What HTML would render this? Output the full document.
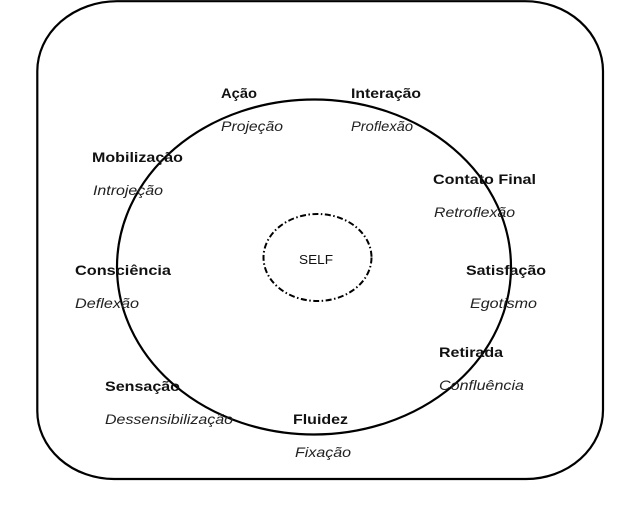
<!DOCTYPE html>
<html>
<head>
<meta charset="utf-8">
<style>
html,body{margin:0;padding:0;background:#fff;}
svg{display:block;}
text{font-family:"Liberation Sans",Arial,sans-serif;fill:#111;}
.b{font-weight:bold;font-size:14px;}
.i{font-style:italic;font-size:14px;fill:#222;}
</style>
</head>
<body>
<svg width="636" height="516" viewBox="0 0 636 516" xmlns="http://www.w3.org/2000/svg">
<rect x="0" y="0" width="636" height="516" fill="#fff"/>
<!-- outer rounded rectangle -->
<path d="M117,1.2 L525,1.2 A78,70 0 0 1 603,71 L603,410 A77,69 0 0 1 526,479 L114,479 A77,68 0 0 1 37.3,411 L37.3,71 A80,70 0 0 1 117,1.2 Z" fill="none" stroke="#000" stroke-width="2.2"/>
<!-- big ellipse -->
<ellipse cx="314" cy="267" rx="197" ry="167.5" fill="none" stroke="#000" stroke-width="2.2"/>
<!-- SELF dash-dot ellipse -->
<ellipse cx="317.5" cy="257.5" rx="54" ry="43.5" fill="none" stroke="#000" stroke-width="2" stroke-dasharray="6 2.5 1.5 2.5"/>
<text x="299" y="264" font-size="13" textLength="34" lengthAdjust="spacingAndGlyphs">SELF</text>

<text class="b" x="221" y="98" textLength="36" lengthAdjust="spacingAndGlyphs">Ação</text>
<text class="i" x="221" y="131" textLength="62" lengthAdjust="spacingAndGlyphs">Projeção</text>

<text class="b" x="351" y="98" textLength="70" lengthAdjust="spacingAndGlyphs">Interação</text>
<text class="i" x="351" y="131" textLength="62" lengthAdjust="spacingAndGlyphs">Proflexão</text>

<text class="b" x="92" y="162" textLength="91" lengthAdjust="spacingAndGlyphs">Mobilização</text>
<text class="i" x="93" y="195" textLength="70" lengthAdjust="spacingAndGlyphs">Introjeção</text>

<text class="b" x="433" y="184" textLength="103" lengthAdjust="spacingAndGlyphs">Contato Final</text>
<text class="i" x="434" y="217" textLength="81" lengthAdjust="spacingAndGlyphs">Retroflexão</text>

<text class="b" x="75" y="275" textLength="96" lengthAdjust="spacingAndGlyphs">Consciência</text>
<text class="i" x="75" y="308" textLength="64" lengthAdjust="spacingAndGlyphs">Deflexão</text>

<text class="b" x="466" y="275" textLength="80" lengthAdjust="spacingAndGlyphs">Satisfação</text>
<text class="i" x="470" y="308" textLength="67" lengthAdjust="spacingAndGlyphs">Egotismo</text>

<text class="b" x="439" y="357" textLength="64" lengthAdjust="spacingAndGlyphs">Retirada</text>
<text class="i" x="439" y="390" textLength="85" lengthAdjust="spacingAndGlyphs">Confluência</text>

<text class="b" x="105" y="391" textLength="75" lengthAdjust="spacingAndGlyphs">Sensação</text>
<text class="i" x="105" y="424" textLength="128" lengthAdjust="spacingAndGlyphs">Dessensibilização</text>

<text class="b" x="293" y="424" textLength="55" lengthAdjust="spacingAndGlyphs">Fluidez</text>
<text class="i" x="295" y="457" textLength="56" lengthAdjust="spacingAndGlyphs">Fixação</text>
</svg>
</body>
</html>
